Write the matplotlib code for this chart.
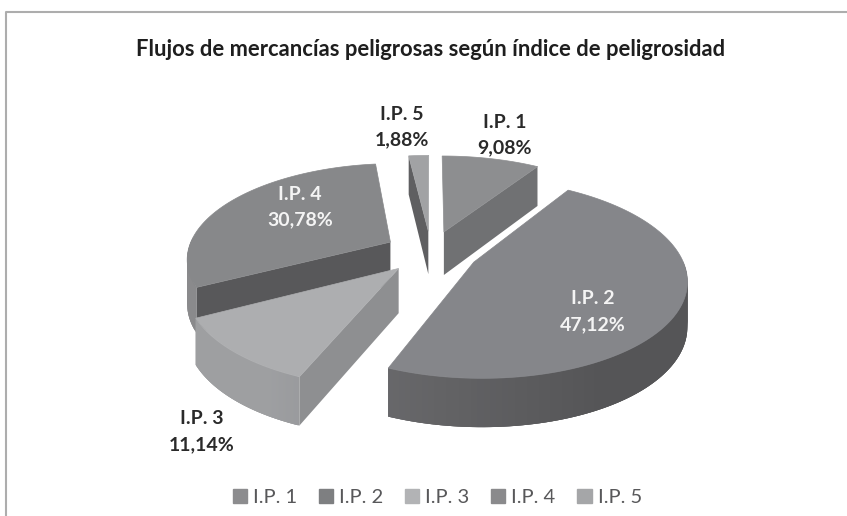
import numpy as np
import matplotlib
matplotlib.use("Agg")
import matplotlib.pyplot as plt
from matplotlib.patches import Polygon, Patch

plt.rcParams['font.family'] = ['Lato', 'DejaVu Sans']

categorias = ['I.P. 1', 'I.P. 2', 'I.P. 3', 'I.P. 4', 'I.P. 5']
valores = [9.08, 47.12, 11.14, 30.78, 1.88]
etiquetas = ['9,08%', '47,12%', '11,14%', '30,78%', '1,88%']

color_sup = ['#8d8e90', '#85868a', '#adaeb0', '#87888a', '#a1a2a4']
color_pared = ['#77787a', '#555557', '#7e7f81', '#6e6e70', '#78797b']
color_cara = ['#707173', '#5a5a5c', '#8e8f91', '#58585a', '#5f5f61']
color_leyenda = ['#8c8c8e', '#7e7f81', '#b2b3b5', '#8a8a8c', '#a5a6a8']
cara_visible = ['fin', None, 'ini', 'ini', 'ini']
orden = [3, 4, 0, 2, 1]

# pie geometry in pixels
CX, CY = 431, 252
A_DER, A_IZQ = 206, 203
B = 94
K = 0.16
ALTO = 44
EXPL = 0.23

fig = plt.figure(figsize=(8.47, 5.16), dpi=100)
ax = fig.add_axes([0, 0, 1, 1])
ax.set_xlim(0, 847)
ax.set_ylim(516, 0)
ax.axis('off')


def proyecta(u, v, z=0.0):
    s = 1 / (1 + K * v)
    a = np.where(u < 0, A_IZQ, A_DER)
    x = CX + a * u * s
    y = CY - B * v * s + z * ALTO * (1 - 0.1 * v)
    return x, y


# frame of the chart
ax.plot([6, 6, 847], [516, 12, 12], color='#adadad', lw=1.5)

total = sum(valores)
fin = np.cumsum(valores) / total * 2 * np.pi
ini = fin - np.array(valores) / total * 2 * np.pi

for i in orden:
    medio = (ini[i] + fin[i]) / 2
    du, dv = EXPL * np.sin(medio), EXPL * np.cos(medio)
    th = np.linspace(ini[i], fin[i], 120)
    u = du + np.sin(th)
    v = dv + np.cos(th)

    # cut face
    if cara_visible[i]:
        t = ini[i] if cara_visible[i] == 'ini' else fin[i]
        ub, vb = du + np.sin(t), dv + np.cos(t)
        x0, y0 = proyecta(du, dv)
        x1, y1 = proyecta(ub, vb)
        x2, y2 = proyecta(ub, vb, 1)
        x3, y3 = proyecta(du, dv, 1)
        ax.add_patch(Polygon([(x0, y0), (x1, y1), (x2, y2), (x3, y3)],
                             fc=color_cara[i], lw=0))

    # outer wall, lighter on the left side. Strips overlap so no seams show
    base = np.array(matplotlib.colors.to_rgb(color_pared[i]))
    for j in range(len(th) - 1):
        if np.cos(th[j]) > 0.02:
            continue
        brillo = 1 + 0.25 * np.clip(0.5 - np.sin(th[j]), 0, 1)
        c = np.clip(base * brillo, 0, 1)
        k = min(j + 3, len(th) - 1)
        xa, ya = proyecta(u[j], v[j])
        xb, yb = proyecta(u[k], v[k])
        xc, yc = proyecta(u[k], v[k], 1)
        xd, yd = proyecta(u[j], v[j], 1)
        ax.add_patch(Polygon([(xa, ya), (xb, yb), (xc, yc), (xd, yd)],
                             fc=c, lw=0))

    # top surface
    xs, ys = proyecta(u, v)
    xa, ya = proyecta(du, dv)
    puntos = [(xa, ya)] + list(zip(xs, ys))
    ax.add_patch(Polygon(puntos, fc=color_sup[i], ec=color_sup[i], lw=0.5))

ax.text(431, 49, 'Flujos de mercancías peligrosas según índice de peligrosidad',
        ha='center', va='center', fontsize=15.8, fontweight='bold', color='#1e1e1e')

pos_etq = [(505, 123, 148), (593, 299, 325), (202, 418, 445), (300, 194, 220), (402, 115, 140)]
col_etq = ['#2a2a2a', '#f4f4f4', '#2a2a2a', '#f4f4f4', '#2a2a2a']
for i in range(len(categorias)):
    x, y1, y2 = pos_etq[i]
    ax.text(x, y1, categorias[i], ha='center', va='center', fontsize=14,
            fontweight='bold', color=col_etq[i])
    ax.text(x, y2, etiquetas[i], ha='center', va='center', fontsize=14,
            fontweight='bold', color=col_etq[i])

handles = [Patch(fc=c, ec=c, label=n) for c, n in zip(color_leyenda, categorias)]
ax.legend(handles=handles, ncol=5, loc='center', bbox_to_anchor=(0.5165, 0.035),
          frameon=False, fontsize=14.5, handlelength=0.7, handleheight=0.7,
          handletextpad=0.3, columnspacing=1.08, labelcolor='#58585a')

plt.savefig('out.png', dpi=100)
